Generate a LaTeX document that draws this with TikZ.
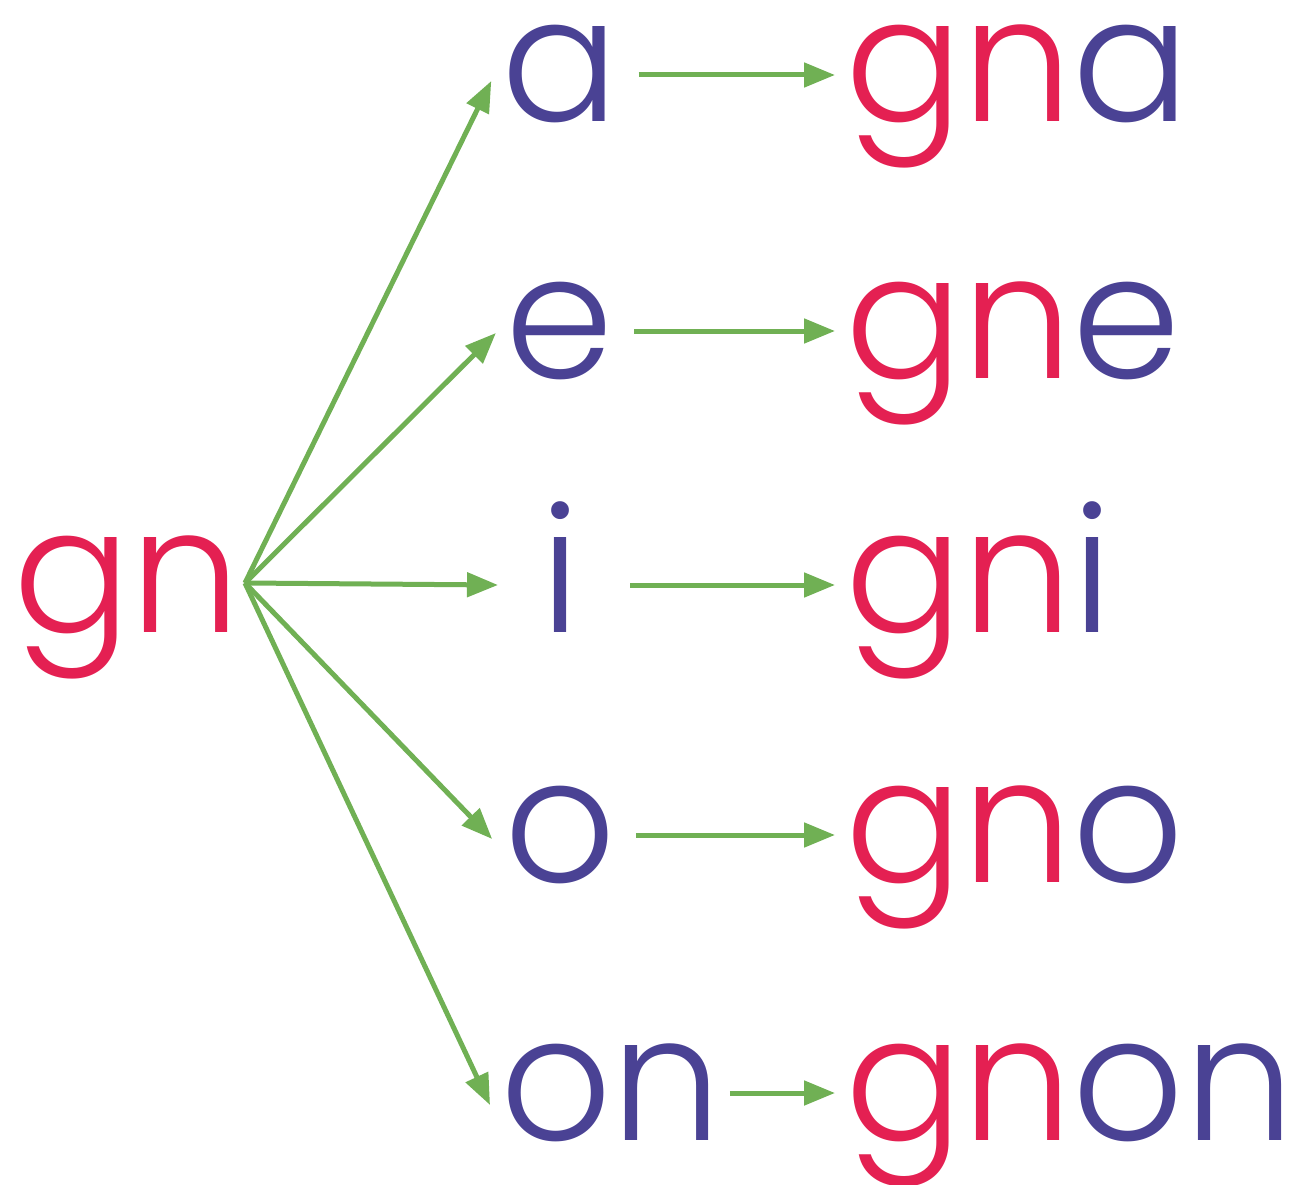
\documentclass[tikz,border=0pt]{standalone}
\usepackage{fontspec}
\setmainfont{Poppins}[UprightFont=* Light]
\usetikzlibrary{arrows.meta}
\definecolor{gnred}{RGB}{228,32,82}
\definecolor{vowel}{RGB}{74,66,148}
\definecolor{arrowgreen}{RGB}{112,176,84}
\tikzset{
  big/.style={inner sep=0pt,outer sep=0pt,font=\fontsize{174}{174}\selectfont,text height=94pt,text depth=0pt},
  vow/.style={big,text=vowel,minimum width=100pt},
  link/.style={arrowgreen,line width=5pt,-{Triangle[length=31pt,width=24pt]}}
}
\begin{document}
\begin{tikzpicture}[x=1pt,y=-1pt, line join=round]
        \useasboundingbox (0,0) rectangle (1296,1185);
        \node (gn) at (13,632) [big,anchor=base west,text=gnred] {gn};
        \coordinate (hub) at (245,583);
        \node (a) at (560,122) [vow,anchor=base] {a};
        \node (e) at (560,378) [vow,anchor=base] {e};
        \node (i) at (560,632) [vow,anchor=base] {i};
        \node (o) at (560,882) [vow,anchor=base] {o};
        \node (on) at (500,1140) [big,anchor=base west,text=vowel] {on};
        \node (gna) at (845,122) [big,anchor=base west] {\textcolor{gnred}{gn}\textcolor{vowel}{a}};
        \node (gne) at (845,378) [big,anchor=base west] {\textcolor{gnred}{gn}\textcolor{vowel}{e}};
        \node (gni) at (845,632) [big,anchor=base west] {\textcolor{gnred}{gn}\textcolor{vowel}{i}};
        \node (gno) at (845,882) [big,anchor=base west] {\textcolor{gnred}{gn}\textcolor{vowel}{o}};
        \node (gnon) at (845,1140) [big,anchor=base west] {\textcolor{gnred}{gn}\textcolor{vowel}{on}};
        % fan out from gn
        \draw[link] (hub) -- ([xshift=-10pt,yshift=-6pt]a.west);
        \draw[link] (hub) -- ([xshift=-10pt,yshift=-2pt]e.west);
        \draw[link] (hub) -- ([xshift=-12pt]i.west);
        \draw[link] (hub) -- ([xshift=-12pt,yshift=-4pt]o.west);
        \draw[link] (hub) -- ([xshift=-10pt,yshift=-12pt]on.west);
        % second column
        \foreach \v in {a,e,i,o}
          \draw[link,shorten <=20pt] (\v.east) -- ([xshift=-10pt]gn\v.west);
        \draw[link,shorten <=8pt] (on.east) -- ([xshift=-10pt]gnon.west);
\end{tikzpicture}
\end{document}
